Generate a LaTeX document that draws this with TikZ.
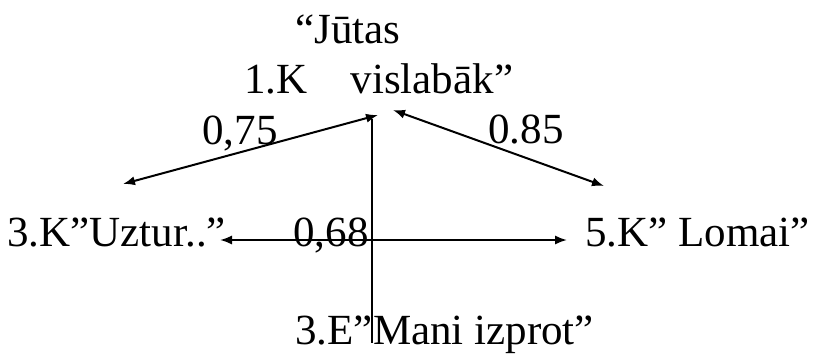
\documentclass[tikz,border=0pt]{standalone}
\usepackage{fontspec}
\setmainfont{Liberation Serif}
\usetikzlibrary{arrows.meta}

\begin{document}
\begin{tikzpicture}[
    x=0.5pt, y=-0.5pt,
    every node/.style={font=\fontsize{21.5}{25}\selectfont, inner sep=0pt, anchor=base west},
    link/.style={{Latex[length=6pt,width=4.6pt]}-{Latex[length=6pt,width=4.6pt]}, line width=1pt},
    stem/.style={line width=0.7pt}
]
\useasboundingbox (0,0) rectangle (813,354);
\node (title) at (295,43) {“Jūtas};
\node (first) at (244,93) {1.K\hspace{1em}vislabāk”};
\node (uztur) at (7,246) {3.K”Uztur..”};
\node (lomai) at (585,246) {5.K” Lomai”};
\node (izprot) at (295,344) {3.E”Mani izprot”};
\node (wl) at (202,144) {0,75};
\node (wr) at (488,143) {0.85};
\node (wm) at (293,246) {0,68};
\coordinate (hub) at (378,115);
\coordinate (hubR) at (393,110);
\coordinate (top) at (372,119);
\coordinate (foot) at (372,343);
\coordinate (tipL) at (123,184);
\coordinate (tipR) at (604,186);
\coordinate (west) at (220,240);
\coordinate (east) at (567,240);
\draw[link] (tipL) -- (hub);
\draw[link] (hubR) -- (tipR);
\draw[link] (west) -- (east);
\draw[stem] (top) -- (foot);
\end{tikzpicture}
\end{document}
